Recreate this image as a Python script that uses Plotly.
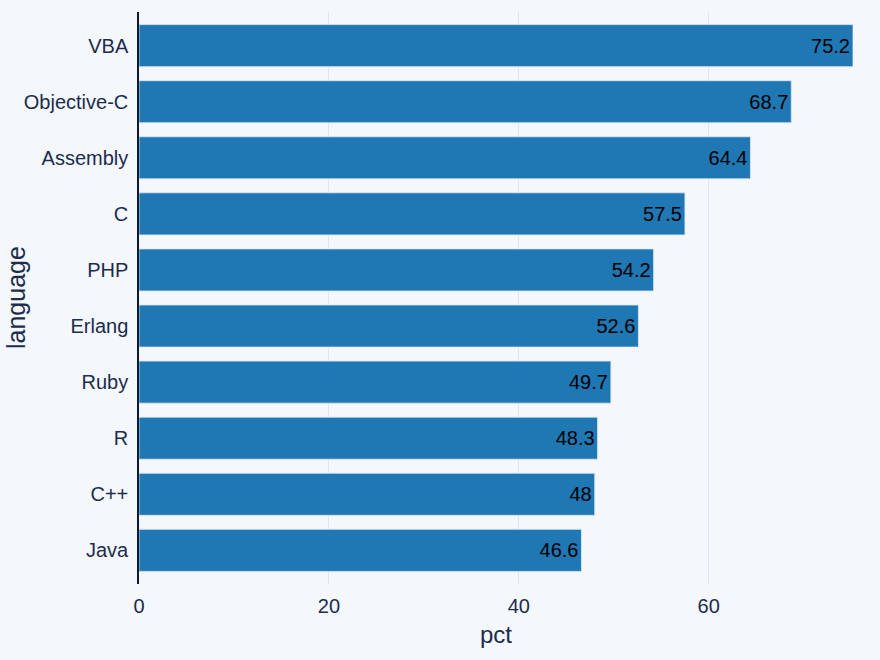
import plotly.graph_objects as go

languages = ["Java", "C++", "R", "Ruby", "Erlang", "PHP", "C", "Assembly", "Objective-C", "VBA"]
pct = [46.6, 48, 48.3, 49.7, 52.6, 54.2, 57.5, 64.4, 68.7, 75.2]
pct_labels = ["46.6", "48", "48.3", "49.7", "52.6", "54.2", "57.5", "64.4", "68.7", "75.2"]

bg = "#f4f7fc"
ink = "#1c2c4c"

fig = go.Figure(go.Bar(
    x=pct, y=languages, orientation="h",
    text=pct_labels, textposition="inside", insidetextanchor="end",
    textfont=dict(color="black", size=20, family="Liberation Sans, Arial"),
    marker=dict(color="#1f77b4", line=dict(color="#dfe8f3", width=0.8)),
))

fig.update_layout(
    width=880, height=660,
    paper_bgcolor=bg, plot_bgcolor=bg,
    margin=dict(l=139, r=27, t=12, b=76, autoexpand=False),
    bargap=0.25,
    showlegend=False,
    font=dict(family="Liberation Sans, Arial", size=20, color=ink),
    uniformtext=dict(minsize=20, mode="show"),
    annotations=[dict(
        text="language", textangle=-90, showarrow=False,
        xref="paper", yref="paper", x=0, y=0.5,
        xanchor="left", yanchor="middle", xshift=-139,
        font=dict(size=25, color=ink),
    )],
)
fig.update_xaxes(
    range=[0, 75.2], tickvals=[0, 20, 40, 60],
    showgrid=True, gridcolor="#e2e6ec", gridwidth=1, zeroline=False,
    title=dict(text="pct", font=dict(size=24), standoff=10),
    ticks="", showline=False, automargin=False, ticklabelstandoff=8,
)
fig.update_yaxes(
    range=[-0.6, 9.6],
    showline=True, linecolor="#0d1a33", linewidth=1.5,
    showgrid=False, ticks="", ticklabelstandoff=5,
    automargin=False,
)

fig.write_html(
    "out.html",
    config={"displayModeBar": False},
    post_script="document.body.style.margin='0';document.body.style.background='%s';document.body.style.overflow='hidden';" % bg,
)
